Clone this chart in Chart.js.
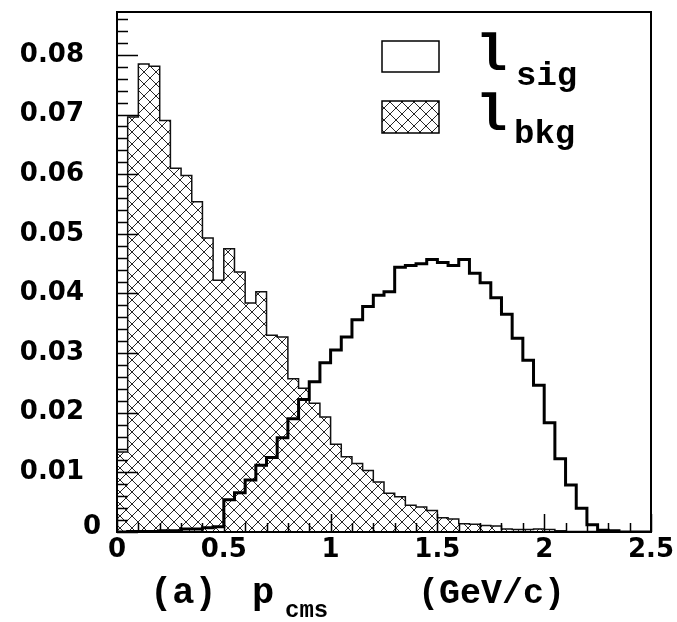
<!DOCTYPE html>
<html><head><meta charset="utf-8">
<script src="https://cdn.jsdelivr.net/npm/chart.js@4/dist/chart.umd.min.js"></script>
<style>html,body{margin:0;padding:0;background:#fff;}#wrap{width:677px;height:622px;}</style>
</head><body><div id="wrap"><canvas id="c" width="677" height="622"></canvas></div>
<script>
// lower bin edges (GeV/c)
const binEdges = [0,0.05,0.1,0.15,0.2,0.25,0.3,0.35,0.4,0.45,0.5,0.55,0.6,0.65,0.7,0.75,0.8,0.85,0.9,0.95,
  1.0,1.05,1.1,1.15,1.2,1.25,1.3,1.35,1.4,1.45,1.5,1.55,1.6,1.65,1.7,1.75,1.8,1.85,1.9,1.95,
  2.0,2.05,2.1,2.15,2.2,2.25,2.3,2.35,2.4,2.45];
const xUpper = 2.5;
// signal lepton (open histogram)
const sigValues = [0,0.0001,0.0001,0.0001,0.0002,0.0002,0.0005,0.0005,0.0007,0.0009,
  0.0054,0.0066,0.0087,0.0112,0.0125,0.0158,0.0190,0.0222,0.0252,0.0284,
  0.0305,0.0327,0.0356,0.0378,0.0397,0.0403,0.0444,0.0447,0.0450,0.0457,
  0.0452,0.0447,0.0457,0.0434,0.0418,0.0393,0.0365,0.0325,0.0288,0.0246,
  0.0183,0.0123,0.0079,0.0040,0.0012,0.0003,0.0002,0,0,0];
// background lepton (hatched histogram)
const bkgValues = [0.0134,0.0696,0.0785,0.0781,0.0690,0.0610,0.0598,0.0554,0.0493,0.0422,
  0.0475,0.0436,0.0384,0.0403,0.0330,0.0327,0.0257,0.0241,0.0216,0.0193,
  0.0147,0.0126,0.0115,0.0103,0.0084,0.0065,0.0059,0.0045,0.0042,0.0036,
  0.0024,0.0022,0.0014,0.0013,0.0011,0.0010,0.0005,0.0004,0.0004,0.0005,
  0.0004,0.0002,0.0001,0.0001,0.0001,0,0,0,0,0];
const xTickLabels = [0,0.5,1,1.5,2,2.5];
const yTickLabels = [0,0.01,0.02,0.03,0.04,0.05,0.06,0.07,0.08];
const yTop = 0.0872;

const canvas = document.getElementById('c');
const ctx0 = canvas.getContext('2d');
function makeHatch(){
  const p = 12;
  const c = document.createElement('canvas'); c.width = p; c.height = p;
  const g = c.getContext('2d');
  g.fillStyle = '#fff'; g.fillRect(0,0,p,p);
  g.strokeStyle = '#262626'; g.lineWidth = 1;
  g.beginPath();
  g.moveTo(-1,-1); g.lineTo(p+1,p+1);
  g.moveTo(-1,p+1); g.lineTo(p+1,-1);
  g.stroke();
  return ctx0.createPattern(c,'repeat');
}
const hatch = makeHatch();
const toSteps = vals => binEdges.map((e,i)=>({x:e,y:vals[i]})).concat([{x:xUpper,y:vals[vals.length-1]}]);

const tickFont = {family:'DejaVu Sans', size:26, weight:'bold'};

const decor = {
  id:'decor',
  afterDraw(chart){
    const ctx = chart.ctx, a = chart.chartArea;
    const xs = chart.scales.x, ys = chart.scales.y;
    ctx.save();
    ctx.strokeStyle = '#000';
    ctx.lineWidth = 1.5;
    ctx.beginPath();
    for (let k=0;k<=25;k++){
      const v = k*0.1; const px = Math.round(xs.getPixelForValue(v))+0.5;
      const len = (k%5===0)?18:9;
      ctx.moveTo(px,a.bottom); ctx.lineTo(px,a.bottom-len);
    }
    for (let k=0;k*0.002<=yTop;k++){
      const v = k*0.002; const py = Math.round(ys.getPixelForValue(v))+0.5;
      const len = (k%5===0)?21:11;
      ctx.moveTo(a.left,py); ctx.lineTo(a.left+len,py);
    }
    ctx.stroke();
    ctx.lineWidth = 2;
    ctx.strokeRect(a.left, a.top, a.right-a.left, a.bottom-a.top);
    // y-axis zero label (ROOT places it closer to the axis)
    ctx.fillStyle = '#000';
    ctx.font = 'bold 26px "DejaVu Sans"';
    ctx.textAlign = 'right'; ctx.textBaseline = 'middle';
    ctx.fillText('0', a.left-16, ys.getPixelForValue(0)-5);
    // legend
    ctx.lineWidth = 1.5;
    ctx.fillStyle = '#fff';
    ctx.fillRect(382,41,57,31); ctx.strokeRect(382,41,57,31);
    ctx.fillStyle = hatch;
    ctx.fillRect(382,101,57,32); ctx.strokeRect(382,101,57,32);
    ctx.fillStyle = '#000';
    ctx.textAlign = 'left'; ctx.textBaseline = 'alphabetic';
    ctx.font = 'bold 52px "Liberation Mono"';
    ctx.fillText('l', 476, 70);
    ctx.fillText('l', 476, 130);
    ctx.font = 'bold 34px "Liberation Mono"';
    ctx.fillText('sig', 516, 85);
    ctx.fillText('bkg', 514, 143);
    // axis title
    ctx.font = 'bold 37px "Liberation Mono"';
    ctx.fillText('(a)', 150, 603);
    ctx.fillText('p', 252, 603);
    ctx.font = 'bold 35px "Liberation Mono"';
    ctx.fillText('(GeV/c)', 418, 603);
    ctx.font = 'bold 24px "Liberation Mono"';
    ctx.fillText('cms', 285, 617);
    ctx.restore();
  }
};

new Chart(canvas, {
  type:'line',
  data:{
    datasets:[
      {label:'l_sig', data:toSteps(sigValues), stepped:'before', borderColor:'#000', borderWidth:3,
       pointRadius:0, fill:false, order:0},
      {label:'l_bkg', data:toSteps(bkgValues), stepped:'before', borderColor:'#111', borderWidth:1.5,
       pointRadius:0, fill:'origin', backgroundColor:hatch, order:1}
    ]
  },
  options:{
    responsive:false, animation:false, devicePixelRatio:1,
    layout:{padding:{left:0,right:26,top:12,bottom:0}},
    plugins:{legend:{display:false}, tooltip:{enabled:false}},
    scales:{
      x:{type:'linear', min:0, max:xUpper,
        afterBuildTicks:s=>{s.ticks = xTickLabels.map(v=>({value:v}));},
        afterFit:s=>{s.height = 90; s.paddingLeft = 0; s.paddingRight = 0;},
        ticks:{callback:v=>String(v), font:tickFont, color:'#000', padding:3, maxRotation:0, autoSkip:false},
        grid:{display:false, drawTicks:false}, border:{display:false}},
      y:{type:'linear', min:0, max:yTop,
        afterBuildTicks:s=>{s.ticks = yTickLabels.map(v=>({value:v}));},
        afterFit:s=>{s.width = 117; s.paddingTop = 0; s.paddingBottom = 0;},
        ticks:{callback:v=> v===0 ? '' : v.toFixed(2), font:tickFont, color:'#000', padding:33, autoSkip:false},
        grid:{display:false, drawTicks:false}, border:{display:false}}
    }
  },
  plugins:[decor]
});
</script></body></html>
